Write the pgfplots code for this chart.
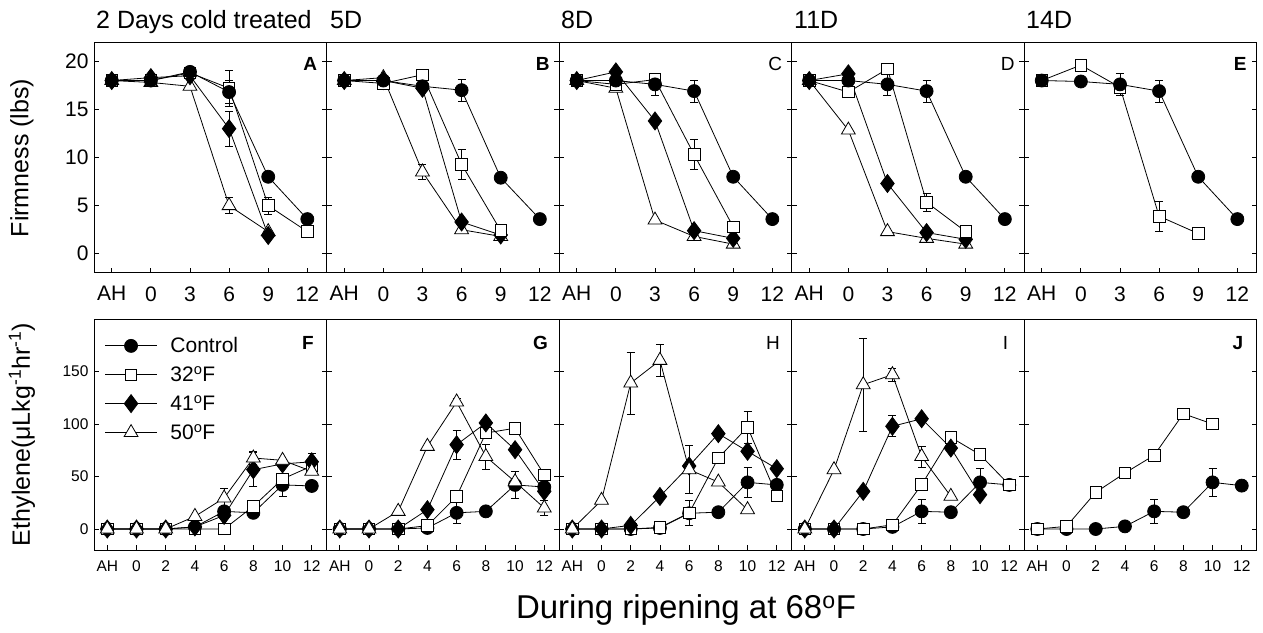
\documentclass[border=0pt]{standalone}
\usepackage{fontspec}
\setmainfont{Liberation Sans}
\usepackage{pgfplots}
\pgfplotsset{compat=1.18}
\tikzset{
  lett/.style={font=\fontsize{19}{19}\selectfont\bfseries},
  lettn/.style={font=\fontsize{19}{19}\selectfont},
}
\pgfplotsset{
  common/.style={scale only axis, width=232.5pt,
    axis line style={line width=1pt}, tick style={black, line width=0.8pt},
    major tick length=5pt, tick align=inside, xtick pos=bottom, ytick pos=both,
    clip=false, /pgf/number format/assume math mode=true,
    every axis plot/.append style={line width=0.8pt, black}},
  top/.style={common, height=230pt, xmin=-4.36, xmax=13.47, ymin=-2, ymax=21.9,
    xtick={-3,0,3,6,9,12}, xticklabels={AH,0,3,6,9,12}, ytick={0,5,10,15,20},
    ticklabel style={font=\fontsize{21}{21}\selectfont},
    xticklabel style={yshift=-10pt}, yticklabel style={xshift=-2pt}},
  bot/.style={common, height=231pt, xmin=-2.91, xmax=13.01, ymin=-20, ymax=200,
    xtick={-2,0,2,4,6,8,10,12}, xticklabels={AH,0,2,4,6,8,10,12}, ytick={0,50,100,150},
    ticklabel style={font=\fontsize{15.5}{15.5}\selectfont},
    xticklabel style={yshift=-7pt}, yticklabel style={xshift=-2pt}},
  noy/.style={yticklabels={}},
  ctrl/.style={mark=*, mark size=6.5pt, mark options={fill=black, solid}},
  sq/.style={mark=square*, mark size=5.8pt, mark options={fill=white, solid}},
  dm/.style={mark=diamond*, mark size=9pt, mark options={fill=black, solid}},
  tr/.style={mark=triangle*, mark size=8pt, mark options={fill=white, solid}},
  errb/.style={forget plot, only marks, mark=none,
    error bars/.cd, y dir=both, y explicit,
    error bar style={draw=black, line width=0.8pt},
    error mark options={draw=black, rotate=90, mark size=4pt, line width=0.8pt}},
}
\begin{document}
\begin{tikzpicture}[x=1pt,y=1pt]
\useasboundingbox (0,0) rectangle (1263,632);
\def\tf{\fontsize{25}{25}\selectfont}
\node[anchor=base west,font=\tf,inner sep=0] at (96,603) {2 Days cold treated};
\node[anchor=base west,font=\tf,inner sep=0] at (330,603) {5D};
\node[anchor=base west,font=\tf,inner sep=0] at (561,603) {8D};
\node[anchor=base west,font=\tf,inner sep=0] at (794,603) {11D};
\node[anchor=base west,font=\tf,inner sep=0] at (1026,603) {14D};
\node[rotate=90,font=\tf] at (22,474) {Firmness (lbs)};
\node[rotate=90,font=\tf] at (22,197.5) {Ethylene(μLkg\textsuperscript{-1}hr\textsuperscript{-1})};
\node[anchor=base,font=\fontsize{33}{33}\selectfont,inner sep=0] at (686,14) {During ripening at 68\textsuperscript{o}F};

% ---------- A ----------
\begin{axis}[top, at={(94pt,359pt)}, anchor=south west]
\addplot[errb] coordinates {(6,17.2) +- (0,1.9) (9,5.0) +- (0,0.9) (6,13) +- (0,1.8) (6,5.0) +- (0,0.85) (6,16.8) +- (0,1.2)};
\addplot[tr] coordinates {(-3,18) (0,17.8) (3,17.4) (6,5.0) (9,2.3)};
\addplot[dm] coordinates {(-3,18) (0,18.3) (3,18.5) (6,13) (9,1.9)};
\addplot[sq] coordinates {(-3,18) (0,18) (3,18.8) (6,17.2) (9,5.0) (12,2.3)};
\addplot[ctrl] coordinates {(-3,18) (0,18) (3,18.9) (6,16.8) (9,8.0) (12,3.6)};
\node[lett] at (rel axis cs:0.93,0.91) {A};
\end{axis}
% ---------- B ----------
\begin{axis}[top, noy, at={(326.5pt,359pt)}, anchor=south west]
\addplot[errb] coordinates {(6,17.0) +- (0,1.15) (6,9.3) +- (0,1.55) (3,8.5) +- (0,0.75)};
\addplot[tr] coordinates {(-3,18) (0,18.3) (3,8.5) (6,2.5) (9,1.8)};
\addplot[dm] coordinates {(-3,18) (0,18) (3,17.2) (6,3.3) (9,1.95)};
\addplot[sq] coordinates {(-3,18) (0,17.7) (3,18.6) (6,9.3) (9,2.4)};
\addplot[ctrl] coordinates {(-3,18) (0,18) (3,17.4) (6,17.0) (9,7.9) (12,3.6)};
\node[lett] at (rel axis cs:0.93,0.91) {B};
\end{axis}
% ---------- C ----------
\begin{axis}[top, noy, at={(559pt,359pt)}, anchor=south west]
\addplot[errb] coordinates {(3,17.6) +- (0,1.1) (6,16.9) +- (0,1.15) (6,10.3) +- (0,1.55)};
\addplot[tr] coordinates {(-3,18) (0,17.2) (3,3.5) (6,1.8) (9,1.0)};
\addplot[dm] coordinates {(-3,18) (0,18.9) (3,13.8) (6,2.4) (9,1.6)};
\addplot[sq] coordinates {(-3,18) (0,17.6) (3,18.1) (6,10.3) (9,2.8)};
\addplot[ctrl] coordinates {(-3,18) (0,18) (3,17.6) (6,16.9) (9,8.0) (12,3.6)};
\node[lettn] at (rel axis cs:0.93,0.91) {C};
\end{axis}
% ---------- D ----------
\begin{axis}[top, noy, at={(791.5pt,359pt)}, anchor=south west]
\addplot[errb] coordinates {(3,17.6) +- (0,1.1) (6,16.9) +- (0,1.15) (6,5.35) +- (0,0.95)};
\addplot[tr] coordinates {(-3,18) (0,12.85) (3,2.3) (6,1.6) (9,1.0)};
\addplot[dm] coordinates {(-3,18) (0,18.7) (3,7.3) (6,2.2) (9,1.5)};
\addplot[sq] coordinates {(-3,18) (0,16.8) (3,19.2) (6,5.35) (9,2.3)};
\addplot[ctrl] coordinates {(-3,18) (0,18) (3,17.6) (6,16.9) (9,8.0) (12,3.6)};
\node[lettn] at (rel axis cs:0.93,0.91) {D};
\end{axis}
% ---------- E ----------
\begin{axis}[top, noy, at={(1024pt,359pt)}, anchor=south west]
\addplot[errb] coordinates {(3,17.6) +- (0,1.1) (6,16.9) +- (0,1.15) (6,3.9) +- (0,1.55)};
\addplot[sq] coordinates {(-3,18) (0,19.6) (3,17.3) (6,3.9) (9,2.1)};
\addplot[ctrl] coordinates {(-3,18) (0,17.9) (3,17.6) (6,16.9) (9,8.0) (12,3.6)};
\node[lett] at (rel axis cs:0.93,0.91) {E};
\end{axis}

% ---------- F ----------
\begin{axis}[bot, at={(94pt,82pt)}, anchor=south west,
  legend style={at={(rel axis cs:0.045,0.925)}, anchor=north west, draw=none, fill=none,
    font=\fontsize{21}{21}\selectfont, row sep=10pt, inner sep=0pt,
    nodes={inner sep=1pt, anchor=west},
    /tikz/every odd column/.append style={column sep=12pt}},
  legend cell align=left,
  legend image code/.code={\draw[mark repeat=2,mark phase=2,#1] plot coordinates {(0pt,0pt) (26pt,0pt) (52pt,0pt)};}]
\addplot[errb] coordinates {(10,42) +- (0,11) (8,56.5) +- (0,16) (8,67.6) +- (0,6) (6,29.5) +- (0,9) (12,64) +- (0,8)};
\addplot[ctrl] coordinates {(-2,0) (0,0) (2,0) (4,2) (6,16.8) (8,15.4) (10,42) (12,41)};
\addlegendentry{Control}
\addplot[sq] coordinates {(-2,0) (0,0) (2,0) (4,0) (6,0) (8,21.6) (10,47.6) (12,60)};
\addlegendentry{32\textsuperscript{o}F}
\addplot[dm] coordinates {(-2,0) (0,0) (2,0) (4,2) (6,13) (8,56.5) (10,62) (12,64)};
\addlegendentry{41\textsuperscript{o}F}
\addplot[tr] coordinates {(-2,0) (0,0) (2,0) (4,12) (6,29.5) (8,67.6) (10,65.4) (12,55)};
\addlegendentry{50\textsuperscript{o}F}
\node[lett] at (rel axis cs:0.92,0.896) {F};
\end{axis}
% ---------- G ----------
\begin{axis}[bot, noy, at={(326.5pt,82pt)}, anchor=south west]
\addplot[errb] coordinates {(6,121) +- (0,3) (6,80.3) +- (0,14) (6,15.4) +- (0,10) (8,69) +- (0,12) (10,42) +- (0,13) (12,20) +- (0,7)};
\addplot[ctrl] coordinates {(-2,0) (0,0) (2,0) (4,1) (6,15.4) (8,16.8) (10,42) (12,40)};
\addplot[sq] coordinates {(-2,0) (0,0) (2,0) (4,3.2) (6,31) (8,91.4) (10,96) (12,51.7)};
\addplot[dm] coordinates {(-2,0) (0,0) (2,0) (4,18.4) (6,80.3) (8,101) (10,75.5) (12,35.9)};
\addplot[tr] coordinates {(-2,0) (0,0) (2,16.8) (4,78.7) (6,121) (8,69) (10,45) (12,20)};
\node[lett] at (rel axis cs:0.92,0.896) {G};
\end{axis}
% ---------- H ----------
\begin{axis}[bot, noy, at={(559pt,82pt)}, anchor=south west]
\addplot[errb] coordinates {(2,139) +- (0,29.5) (4,160.6) +- (0,15) (6,56.5) +- (0,23) (6,15.2) +- (0,11.6) (10,97) +- (0,15) (10,44.4) +- (0,14)};
\addplot[ctrl] coordinates {(-2,0) (0,0) (2,0) (4,1) (6,15) (8,16) (10,44.4) (12,42)};
\addplot[sq] coordinates {(-2,0) (0,0) (2,0) (4,1.5) (6,15.2) (8,67.6) (10,97) (12,31.7)};
\addplot[dm] coordinates {(-2,0) (0,0) (2,3.5) (4,31) (6,60) (8,90.8) (10,74) (12,57.4)};
\addplot[tr] coordinates {(-2,0) (0,27.3) (2,139) (4,160.6) (6,56.5) (8,44.7) (10,18.4)};
\node[lettn] at (rel axis cs:0.92,0.896) {H};
\end{axis}
% ---------- I ----------
\begin{axis}[bot, noy, at={(791.5pt,82pt)}, anchor=south west]
\addplot[errb] coordinates {(2,137.4) +- (0,44) (4,147) +- (0,6) (4,97.8) +- (0,10) (6,69) +- (0,10) (6,16.8) +- (0,11.6) (10,44.4) +- (0,13)};
\addplot[ctrl] coordinates {(-2,0) (0,0) (2,0) (4,2) (6,16.8) (8,16) (10,44.4) (12,42)};
\addplot[sq] coordinates {(-2,0) (0,0) (2,0) (4,4) (6,42.2) (8,87.3) (10,70.8) (12,42)};
\addplot[dm] coordinates {(-2,0) (0,0) (2,35.9) (4,97.8) (6,105) (8,77.1) (10,32.7)};
\addplot[tr] coordinates {(-2,0) (0,56.5) (2,137.4) (4,147) (6,69) (8,31.1)};
\node[lettn] at (rel axis cs:0.92,0.896) {I};
\end{axis}
% ---------- J ----------
\begin{axis}[bot, noy, at={(1024pt,82pt)}, anchor=south west]
\addplot[errb] coordinates {(6,16.8) +- (0,11.6) (10,44.4) +- (0,13)};
\addplot[ctrl] coordinates {(-2,0) (0,0) (2,0) (4,2.5) (6,16.8) (8,16) (10,44.4) (12,41.3)};
\addplot[sq] coordinates {(-2,0) (0,2.5) (2,34.9) (4,53.3) (6,70.2) (8,109.8) (10,100)};
\node[lett] at (rel axis cs:0.92,0.896) {J};
\end{axis}
\end{tikzpicture}
\end{document}
